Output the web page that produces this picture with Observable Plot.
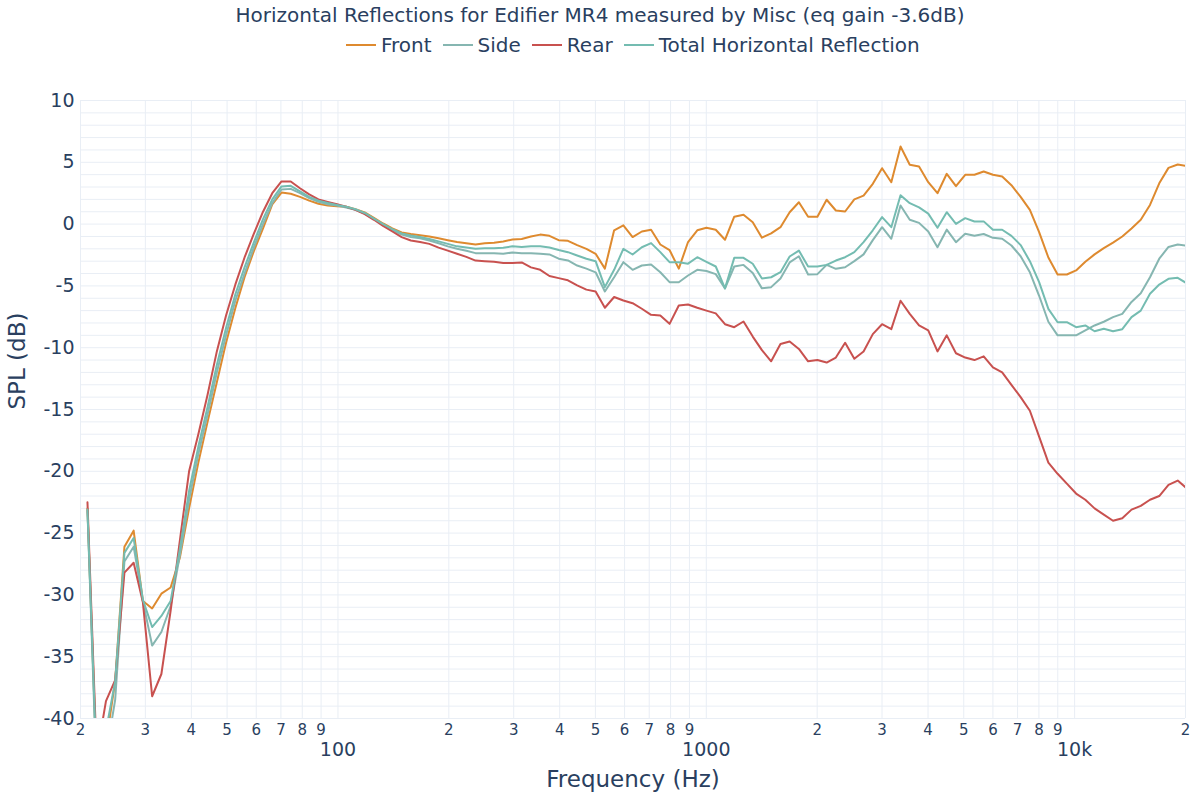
<!DOCTYPE html>
<html>
<head>
<meta charset="utf-8">
<script src="https://cdn.jsdelivr.net/npm/d3@7"></script>
<script src="https://cdn.jsdelivr.net/npm/@observablehq/plot@0.6"></script>
<style>
  body { margin: 0; background: #fff; }
  #wrap { position: relative; width: 1200px; height: 800px; font-family: "DejaVu Sans", Verdana, sans-serif; color: #2a3f5f; }
  #title { position: absolute; top: 3px; left: 0; width: 1200px; text-align: center; font-size: 20px; white-space: nowrap; }
  #legend { position: absolute; top: 33px; left: 346px; display: flex; align-items: center; font-size: 20px; white-space: nowrap; }
  .item { display: flex; align-items: center; margin-right: 11px; }
  .item svg { margin-right: 5px; }
  #plot { position: absolute; top: 70px; left: 0; }
</style>
</head>
<body>
<div id="wrap">
  <div id="title"></div>
  <div id="legend"></div>
  <div id="plot"></div>
</div>
<script>
const titleText = "Horizontal Reflections for Edifier MR4 measured by Misc (eq gain -3.6dB)";
const seriesNames = ["Front", "Side", "Rear", "Total Horizontal Reflection"];
const seriesColors = ["#de8a2f", "#86b6b1", "#c8514f", "#74bcb1"];

const freqs = [20.89, 22.13, 23.45, 24.84, 26.32, 27.88, 29.54, 31.30, 33.16, 35.13,
  37.22, 39.43, 41.78, 44.26, 46.90, 49.68, 52.64, 55.77, 59.08, 62.60,
  66.32, 70.26, 74.44, 78.87, 83.56, 88.52, 93.79, 99.37, 105.3, 111.5,
  118.2, 125.2, 132.6, 140.5, 148.9, 157.7, 167.1, 177.0, 187.6, 198.7,
  210.5, 223.1, 236.3, 250.4, 265.3, 281.0, 297.7, 315.4, 334.2, 354.1,
  375.1, 397.4, 421.1, 446.1, 472.6, 500.7, 530.5, 562.1, 595.5, 630.9,
  668.4, 708.1, 750.2, 794.8, 842.1, 892.2, 945.2, 1001, 1061, 1124,
  1191, 1262, 1337, 1416, 1500, 1590, 1684, 1784, 1890, 2003,
  2122, 2248, 2382, 2523, 2673, 2832, 3001, 3179, 3368, 3568,
  3781, 4005, 4243, 4496, 4763, 5046, 5346, 5664, 6001, 6358,
  6736, 7136, 7560, 8010, 8486, 8991, 9526, 10092, 10692, 11328,
  12001, 12715, 13471, 14272, 15121, 16020, 16973, 17982, 19051, 20184];

const front = [-23.0, -44, -42, -37, -26.1, -24.8, -30.5, -31.1, -29.9, -29.4,
  -27.0, -23.0, -19.3, -16.0, -12.8, -9.6, -6.8, -4.3, -2.2, -0.35,
  1.6, 2.55, 2.45, 2.2, 1.9, 1.65, 1.5, 1.45, 1.4, 1.2,
  0.95, 0.5, 0.05, -0.35, -0.68, -0.8, -0.9, -1.0, -1.15, -1.3,
  -1.45, -1.55, -1.65, -1.55, -1.5, -1.4, -1.25, -1.2, -1.0, -0.85,
  -0.95, -1.3, -1.35, -1.7, -2.0, -2.4, -3.6, -0.5, -0.1, -1.05,
  -0.6, -0.45, -1.65, -2.1, -3.6, -1.45, -0.5, -0.3, -0.46, -1.27,
  0.6, 0.75, 0.15, -1.1, -0.75, -0.25, 0.96, 1.77, 0.6, 0.6,
  1.97, 1.1, 1.02, 2.0, 2.3, 3.26, 4.52, 3.39, 6.28, 4.8,
  4.66, 3.39, 2.5, 4.07, 3.07, 3.99, 3.99, 4.26, 3.99, 3.85,
  3.15, 2.2, 1.15, -0.65, -2.7, -4.08, -4.08, -3.75, -3.05, -2.45,
  -1.95, -1.5, -1.0, -0.35, 0.35, 1.55, 3.3, 4.55, 4.82, 4.7];

const side = [-23.2, -45, -43, -38.5, -27.3, -26.1, -30.5, -34.1, -33.0, -30.9,
  -26.8, -22.3, -18.6, -15.4, -12.0, -9.0, -6.2, -4.0, -1.9, 0.0,
  1.7, 2.8, 2.85, 2.5, 2.1, 1.8, 1.6, 1.5, 1.35, 1.15,
  0.85, 0.4, -0.05, -0.5, -0.85, -1.05, -1.15, -1.33, -1.55, -1.8,
  -2.0, -2.15, -2.35, -2.35, -2.35, -2.4, -2.3, -2.35, -2.35, -2.4,
  -2.45, -2.8, -2.94, -3.35, -3.6, -3.9, -5.45, -4.3, -3.08, -3.7,
  -3.35, -3.27, -3.9, -4.7, -4.7, -4.16, -3.7, -3.8, -4.05, -5.2,
  -3.43, -3.3, -3.95, -5.2, -5.1, -4.4, -3.1, -2.6, -4.08, -4.05,
  -3.3, -3.62, -3.49, -3.0, -2.45, -1.3, -0.25, -1.19, 1.5, 0.35,
  0.1, -0.6, -1.87, -0.45, -1.46, -0.78, -0.95, -0.8, -1.11, -1.19,
  -1.73, -2.6, -3.9, -5.8, -7.9, -9.0, -9.0, -9.0, -8.6, -8.2,
  -7.9, -7.53, -7.26, -6.3, -5.6, -4.3, -2.8, -1.85, -1.65, -1.75];

const rear = [-22.5, -43, -38.6, -36.9, -28.2, -27.4, -30.6, -38.2, -36.4, -31.3,
  -25.6, -20.0, -17.0, -13.8, -10.3, -7.4, -4.9, -2.7, -0.8, 1.0,
  2.5, 3.45, 3.45, 2.9, 2.4, 2.0, 1.8, 1.6, 1.4, 1.15,
  0.8, 0.35, -0.15, -0.6, -1.05, -1.33, -1.45, -1.6, -1.9, -2.15,
  -2.4, -2.65, -2.95, -3.0, -3.05, -3.15, -3.15, -3.1, -3.5, -3.7,
  -4.2, -4.37, -4.55, -4.95, -5.3, -5.45, -6.77, -5.9, -6.18, -6.4,
  -6.85, -7.34, -7.4, -8.07, -6.59, -6.5, -6.77, -7.0, -7.22, -8.1,
  -8.34, -7.88, -9.1, -10.2, -11.1, -9.7, -9.5, -10.1, -11.1, -11.0,
  -11.2, -10.8, -9.6, -10.9, -10.3, -8.9, -8.1, -8.5, -6.2, -7.26,
  -8.2, -8.6, -10.3, -9.0, -10.45, -10.8, -11.0, -10.7, -11.6, -12.0,
  -13.0, -14.0, -15.1, -17.2, -19.3, -20.2, -21.0, -21.8, -22.3, -23.0,
  -23.5, -24.0, -23.8, -23.1, -22.8, -22.3, -22.0, -21.1, -20.75, -21.4];

const total = [-23.1, -44, -41, -37, -26.6, -25.4, -30.4, -32.6, -31.7, -30.5,
  -26.3, -21.6, -18.0, -14.8, -11.4, -8.4, -5.7, -3.5, -1.5, 0.4,
  2.0, 3.05, 3.1, 2.65, 2.2, 1.9, 1.7, 1.55, 1.4, 1.2,
  0.9, 0.45, 0.0, -0.4, -0.75, -0.92, -1.05, -1.2, -1.4, -1.6,
  -1.8, -1.9, -2.0, -1.95, -1.95, -1.92, -1.8, -1.85, -1.8, -1.8,
  -1.9, -2.1, -2.27, -2.54, -2.8, -3.0, -5.1, -3.7, -2.0, -2.46,
  -1.87, -1.54, -2.27, -3.08, -3.08, -3.2, -2.68, -3.05, -3.43, -5.2,
  -2.73, -2.73, -3.21, -4.4, -4.3, -3.89, -2.62, -2.14, -3.43, -3.43,
  -3.3, -2.95, -2.68, -2.27, -1.46, -0.5, 0.56, -0.25, 2.34, 1.69,
  1.35, 0.85, -0.3, 0.96, 0.02, 0.48, 0.21, 0.22, -0.46, -0.46,
  -0.95, -1.7, -3.0, -4.7, -6.86, -7.94, -7.94, -8.34, -8.2, -8.67,
  -8.47, -8.67, -8.5, -7.53, -7.0, -5.64, -4.89, -4.43, -4.35, -4.8];

const yTicks = [-40, -35, -30, -25, -20, -15, -10, -5, 0, 5, 10];
const yGrid = d3.range(-40, 11, 1);
const xMinor = [20,30,40,50,60,70,80,90,200,300,400,500,600,700,800,900,2000,3000,4000,5000,6000,7000,8000,9000,20000];
const xMinorLabels = ["2","3","4","5","6","7","8","9","2","3","4","5","6","7","8","9","2","3","4","5","6","7","8","9","2"];
const xMajor = [100, 1000, 10000];
const xMajorLabels = ["100", "1000", "10k"];

const seriesValues = [front, side, rear, total];
const rows = [];
seriesValues.forEach((vals, s) => {
  freqs.forEach((f, i) => rows.push({f, v: vals[i], name: seriesNames[s]}));
});
const minorRows = xMinor.map((f, i) => ({f, label: xMinorLabels[i]}));
const majorRows = xMajor.map((f, i) => ({f, label: xMajorLabels[i]}));
const yRows = yTicks.map(v => ({v, label: String(v)}));

// title + legend
document.getElementById("title").textContent = titleText;
const leg = document.getElementById("legend");
seriesNames.forEach((n, i) => {
  const it = document.createElement("div");
  it.className = "item";
  it.innerHTML = `<svg width="30" height="6"><line x1="0" y1="3" x2="30" y2="3" stroke="${seriesColors[i]}" stroke-width="2"/></svg><span>${n}</span>`;
  leg.appendChild(it);
});

const gridColor = "#e9eef5";
const chart = Plot.plot({
  width: 1200,
  height: 730,
  marginLeft: 80,
  marginRight: 15,
  marginTop: 30,
  marginBottom: 82,
  style: {fontFamily: "'DejaVu Sans', Verdana, sans-serif", color: "#2a3f5f", background: "#fff"},
  x: {type: "log", domain: [20, 20000], axis: null},
  y: {domain: [-40, 10], axis: null},
  marks: [
    Plot.gridY(yGrid, {stroke: gridColor, strokeOpacity: 1}),
    Plot.gridX(xMinor.concat(xMajor), {stroke: gridColor, strokeOpacity: 1}),
    ...seriesNames.map((n, i) => Plot.line(rows.filter(r => r.name === n), {
      x: "f", y: "v", stroke: seriesColors[i], strokeWidth: 2, clip: true
    })),
    Plot.text(yRows, {y: "v", text: "label", frameAnchor: "left", textAnchor: "end", dx: -6, fontSize: 19, fill: "#2a3f5f"}),
    Plot.text(minorRows, {x: "f", text: "label", frameAnchor: "bottom", lineAnchor: "top", dy: 6, fontSize: 15, fill: "#2a3f5f"}),
    Plot.text(majorRows, {x: "f", text: "label", frameAnchor: "bottom", lineAnchor: "top", dy: 24, fontSize: 19, fill: "#2a3f5f"}),
    Plot.text(["SPL (dB)"], {frameAnchor: "left", rotate: -90, dx: -63, fontSize: 23, fill: "#2a3f5f"}),
    Plot.text(["Frequency (Hz)"], {frameAnchor: "bottom", dy: 68, fontSize: 23, fill: "#2a3f5f"})
  ]
});
document.getElementById("plot").appendChild(chart);
</script>
</body>
</html>
